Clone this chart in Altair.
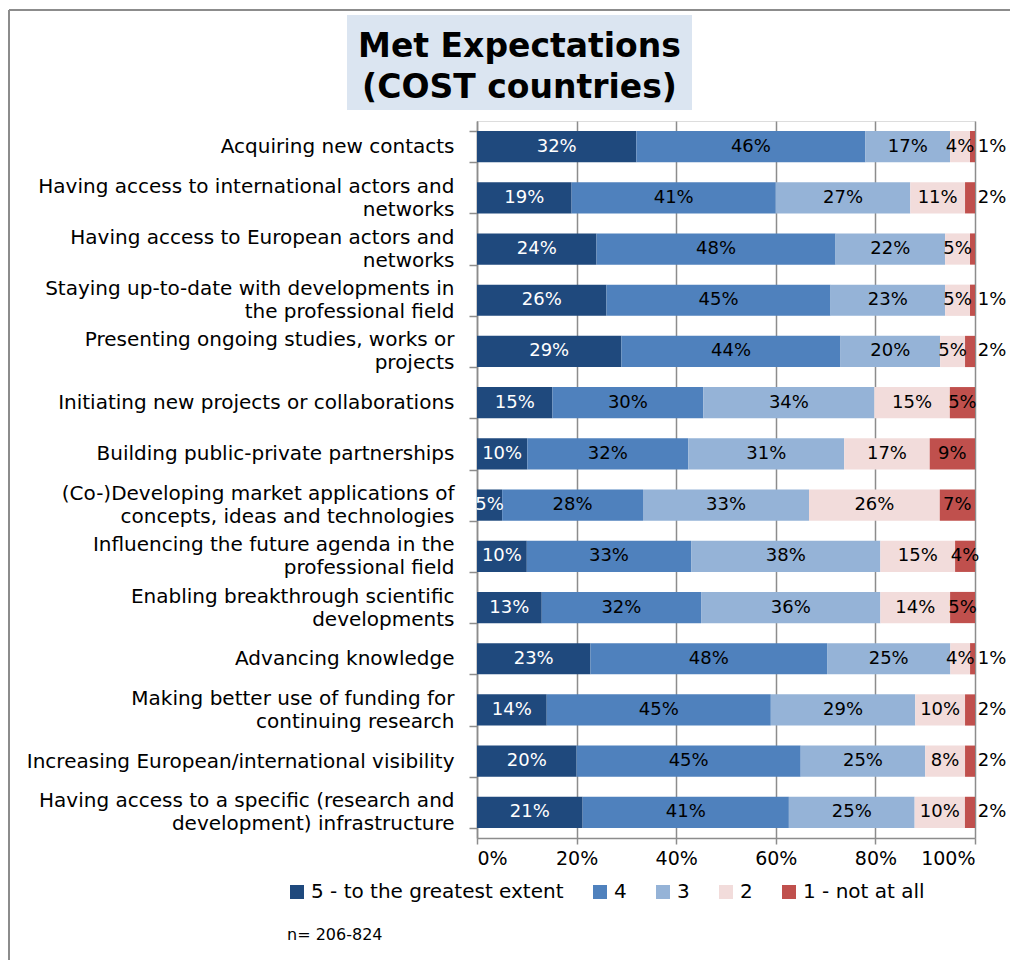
import altair as alt
import pandas as pd

categories = [
    "Acquiring new contacts",
    "Having access to international  actors and\nnetworks",
    "Having access to European actors and\nnetworks",
    "Staying up-to-date  with developments in\nthe professional field",
    "Presenting ongoing studies, works or\nprojects",
    "Initiating new projects or collaborations",
    "Building public-private partnerships",
    "(Co-)Developing market applications of\nconcepts, ideas and technologies",
    "Influencing the future agenda in the\nprofessional field",
    "Enabling breakthrough scientific\ndevelopments",
    "Advancing knowledge",
    "Making better use of funding for\ncontinuing research",
    "Increasing European/international  visibility",
    "Having access to a specific (research and\ndevelopment) infrastructure",
]
levels = ["5 - to the greatest extent", "4", "3", "2", "1 - not at all"]
colors = ["#1F497D", "#4F81BD", "#95B3D7", "#F2DCDB", "#C0504D"]

v5 = [32, 19, 24, 26, 29, 15, 10, 5, 10, 13, 23, 14, 20, 21]
v4 = [46, 41, 48, 45, 44, 30, 32, 28, 33, 32, 48, 45, 45, 41]
v3 = [17, 27, 22, 23, 20, 34, 31, 33, 38, 36, 25, 29, 25, 25]
v2 = [4, 11, 5, 5, 5, 15, 17, 26, 15, 14, 4, 10, 8, 10]
v1 = [1, 2, 1, 1, 2, 5, 9, 7, 4, 5, 1, 2, 2, 2]
hidden_labels = [(categories[2], "1 - not at all")]

title_lines = ["Met Expectations", "(COST countries)"]
note_text = "n= 206-824"

rows = []
for i, c in enumerate(categories):
    for j, (lev, vals) in enumerate(zip(levels, [v5, v4, v3, v2, v1])):
        v = vals[i]
        lab = "" if (c, lev) in hidden_labels else f"{v}%"
        rows.append(dict(category=c, level=lev, order=j, value=v, label=lab))
df = pd.DataFrame(rows)

FONT = "DejaVu Sans"
GRAY = "#8c8c8c"
W, H = 498, 717

x_axis = alt.Axis(format=".0%", values=[0, 0.2, 0.4, 0.6, 0.8, 1.0], title=None,
                  labelFont=FONT, labelFontSize=19, labelColor="black", labelPadding=5,
                  grid=True, gridColor=GRAY, gridWidth=1.5, tickSize=6, tickColor=GRAY,
                  tickWidth=1.5, domainColor=GRAY, domainWidth=1.5)
x_scale = alt.Scale(domain=[0, 1])
y_enc = alt.Y("category:N", sort=categories, title=None,
              scale=alt.Scale(paddingInner=0.39, paddingOuter=0.195),
              axis=alt.Axis(labelExpr="split(datum.label, '\\n')", labelFont=FONT,
                            labelFontSize=20, labelColor="black", labelLineHeight=23,
                            labelOffset={"condition": {"test": "indexof(datum.label, '\\n') >= 0",
                                                       "value": -11.5}, "value": 0},
                            labelPadding=15, labelLimit=0, tickBand="extent", tickSize=8,
                            tickColor=GRAY, tickWidth=1.5, domainColor=GRAY,
                            domainWidth=1.5, grid=False))

base = alt.Chart(df).transform_stack(
    stack="value", groupby=["category"], as_=["x0", "x1"], offset="normalize",
    sort=[alt.SortField("order", order="ascending")]
)

bars = base.mark_bar().encode(
    y=y_enc,
    x=alt.X("x0:Q", scale=x_scale, axis=x_axis),
    x2="x1:Q",
    color=alt.Color("level:N", sort=levels,
                    scale=alt.Scale(domain=levels, range=colors),
                    legend=alt.Legend(orient="none", legendX=-190, legendY=761,
                                      direction="horizontal", columns=5, title=None,
                                      symbolType="square", symbolSize=196,
                                      symbolStrokeWidth=0, labelFont=FONT,
                                      labelFontSize=20, labelColor="black",
                                      labelLimit=400, columnPadding=26, labelOffset=4)),
    order=alt.Order("order:Q"),
)

texts = base.transform_calculate(
    lx=f"datum.order == 4 && datum.value < 3 ? 1 + 17/{W} : (datum.x0 + datum.x1) / 2"
).mark_text(font=FONT, fontSize=18, align="center", baseline="middle").encode(
    y=y_enc,
    x=alt.X("lx:Q", scale=x_scale, axis=x_axis),
    text="label:N",
    color=alt.condition(alt.datum.order == 0, alt.value("white"), alt.value("black")),
)

one = pd.DataFrame({"d": [0]})
border_top = alt.Chart(one).mark_rule(color=GRAY, strokeWidth=2).encode(
    x=alt.value(-468), x2=alt.value(540), y=alt.value(-111))
border_left = alt.Chart(one).mark_rule(color=GRAY, strokeWidth=2).encode(
    x=alt.value(-468), y=alt.value(-111), y2=alt.value(850))
title_box = alt.Chart(one).mark_rect(color="#DBE5F1").encode(
    x=alt.value(-130), x2=alt.value(215), y=alt.value(-106), y2=alt.value(-11))
title_text = alt.Chart(one).mark_text(font=FONT, fontSize=33, fontWeight="bold",
                                      lineHeight=41, align="center", baseline="alphabetic",
                                      color="black").encode(
    x=alt.value(42.5), y=alt.value(-64.5), text=alt.value(title_lines))
note = alt.Chart(one).mark_text(font=FONT, fontSize=16, align="left", baseline="middle",
                                color="black").encode(
    x=alt.value(-190), y=alt.value(814), text=alt.value(note_text))

chart = alt.layer(border_top, border_left, title_box, title_text, bars, texts, note).properties(
    width=W, height=H,
    autosize=alt.AutoSizeParams(type="none"),
    padding={"left": 469, "top": 113, "right": 35, "bottom": 122},
).configure_view(stroke=None).configure(font=FONT)

chart.save("out.html", embed_options={"renderer": "svg", "actions": False})
